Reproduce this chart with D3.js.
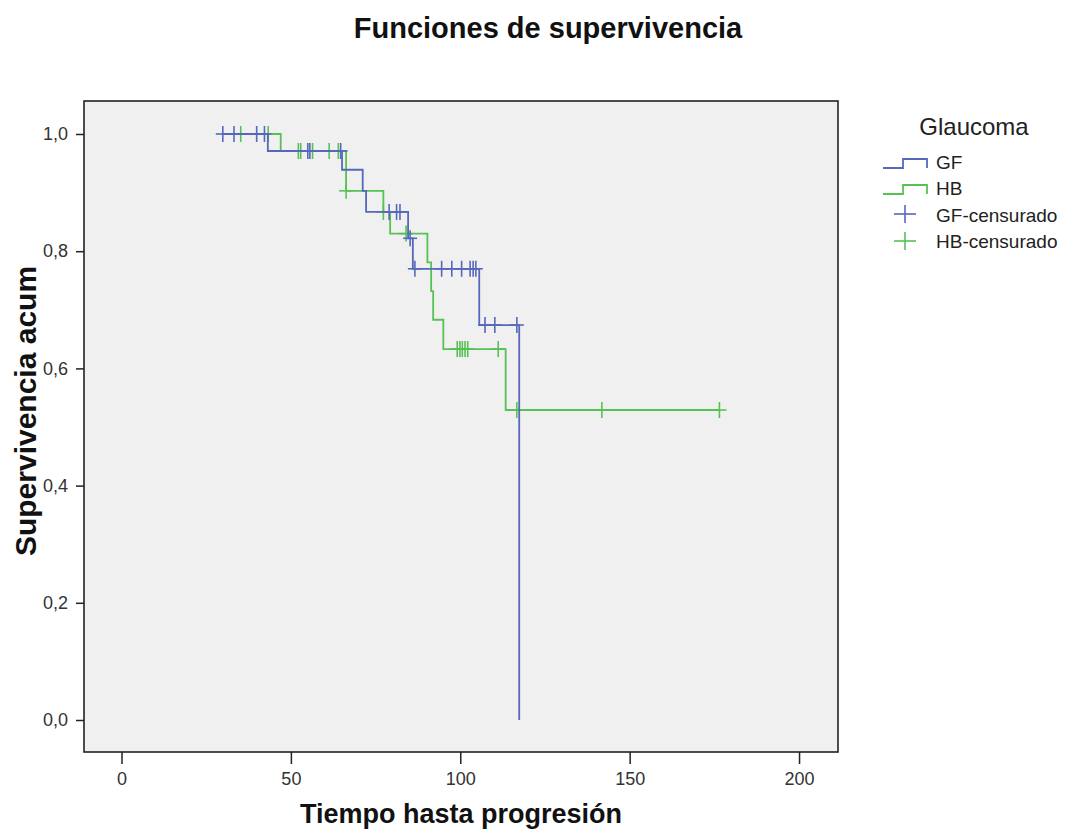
<!DOCTYPE html>
<html><head><meta charset="utf-8">
<script src="https://cdn.jsdelivr.net/npm/d3@7/dist/d3.min.js"></script>
<style>body{margin:0;background:#fff}svg{display:block;font-family:"Liberation Sans",Arial,sans-serif}</style>
</head><body><svg id="c" width="1065" height="830"></svg>
<script>
// ---- data ----
const xTicks = [0, 50, 100, 150, 200];
const yTicks = [0, 0.2, 0.4, 0.6, 0.8, 1.0];
const groups = ["GF", "HB"];
// GF: start time, event times and survival after each event, censored times
const gfStart = 29.9;
const gfEventTimes = [43.2, 65.1, 71.2, 72.2, 84.6, 86.0, 105.6, 117.4];
const gfSurvival   = [0.971, 0.939, 0.903, 0.867, 0.822, 0.770, 0.674, 0.0];
const gfCensored   = [29.9, 33.2, 39.9, 42.2, 55.0, 55.6, 64.7, 79.0, 81.2, 82.2, 85.2, 86.6, 94.5, 97.5, 100.4, 102.9, 103.8, 104.6, 107.3, 110.2, 116.7];
// HB
const hbStart = 35.2;
const hbEventTimes = [47.0, 66.3, 77.3, 79.3, 90.3, 91.4, 92.0, 95.0, 113.4];
const hbSurvival   = [0.971, 0.903, 0.867, 0.830, 0.781, 0.732, 0.683, 0.633, 0.529];
const hbCensored   = [35.2, 43.3, 52.2, 52.9, 56.4, 61.3, 64.0, 66.3, 77.3, 84.0, 99.1, 99.9, 100.6, 101.4, 102.2, 111.2, 116.7, 141.8, 176.5];

const colors = {GF: "#5568bc", HB: "#57c254"};

const svg = d3.select("#c");
const L = 84, R = 838, T = 101, B = 752;
const x = d3.scaleLinear().domain([-11.07, 211.5]).range([L, R]);
const y = d3.scaleLinear().domain([-0.0546, 1.0563]).range([B, T]);

svg.append("rect").attr("x", L).attr("y", T).attr("width", R - L).attr("height", B - T)
  .attr("fill", "#f0f0f0");

// axes
const fmt = d => d3.format(".1f")(d).replace(".", ",");
const gx = svg.append("g").attr("transform", `translate(0,${B})`)
  .call(d3.axisBottom(x).tickValues(xTicks).tickSize(12).tickPadding(8).tickFormat(d3.format("d")));
const gy = svg.append("g").attr("transform", `translate(${L},0)`)
  .call(d3.axisLeft(y).tickValues(yTicks).tickSize(8).tickPadding(8).tickFormat(fmt));
[gx, gy].forEach(g => {
  g.select(".domain").remove();
  g.selectAll(".tick line").attr("stroke", "#222").attr("stroke-width", 1.5);
  g.selectAll(".tick text").attr("fill", "#333").style("font-size", "18px").style("font-family", "Liberation Sans, Arial, sans-serif");
});

function stepPath(start, times, surv) {
  const pts = [[start, 1]];
  let cur = 1;
  times.forEach((t, i) => { pts.push([t, cur]); pts.push([t, surv[i]]); cur = surv[i]; });
  return pts;
}
function survAt(t, times, surv) {
  let s = 1;
  times.forEach((e, i) => { if (t >= e) s = surv[i]; });
  return s;
}
const lastTime = (times, cens) => Math.max(times[times.length - 1], cens[cens.length - 1]);

const series = [
  {name: "HB", start: hbStart, times: hbEventTimes, surv: hbSurvival, cens: hbCensored},
  {name: "GF", start: gfStart, times: gfEventTimes, surv: gfSurvival, cens: gfCensored}
];
const line = d3.line().x(d => x(d[0])).y(d => y(d[1]));
series.forEach(s => {
  const pts = stepPath(s.start, s.times, s.surv);
  const end = lastTime(s.times, s.cens);
  const lastS = s.surv[s.surv.length - 1];
  if (end > s.times[s.times.length - 1] && lastS > 0) pts.push([end, lastS]);
  svg.append("path").attr("d", line(pts)).attr("fill", "none")
    .attr("stroke", colors[s.name]).attr("stroke-width", 1.8);
  const g = svg.append("g").attr("stroke", colors[s.name]).attr("stroke-width", 1.6);
  s.cens.forEach(t => {
    const cx = x(t), cy = y(survAt(t, s.times, s.surv));
    g.append("line").attr("x1", cx - 7).attr("x2", cx + 7).attr("y1", cy).attr("y2", cy);
    g.append("line").attr("x1", cx).attr("x2", cx).attr("y1", cy - 8).attr("y2", cy + 8);
  });
});

// frame
svg.append("rect").attr("x", L).attr("y", T).attr("width", R - L).attr("height", B - T)
  .attr("fill", "none").attr("stroke", "#222").attr("stroke-width", 1.6);

// titles
svg.append("text").attr("x", 548).attr("y", 38).attr("text-anchor", "middle")
  .style("font-size", "29px").style("font-weight", "bold").attr("fill", "#111").text("Funciones de supervivencia");
svg.append("text").attr("x", (L + R) / 2).attr("y", 823).attr("text-anchor", "middle")
  .style("font-size", "27px").style("font-weight", "bold").attr("fill", "#111").text("Tiempo hasta progresión");
svg.append("text").attr("transform", "translate(36,411) rotate(-90)").attr("text-anchor", "middle")
  .style("font-size", "30px").style("font-weight", "bold").attr("fill", "#111").text("Supervivencia acum");

// legend
const lg = svg.append("g");
lg.append("text").attr("x", 974).attr("y", 135).attr("text-anchor", "middle")
  .style("font-size", "24px").attr("fill", "#222").text("Glaucoma");
const legendItems = [
  {label: "GF", type: "step", c: colors.GF, y: 163, ty: 169},
  {label: "HB", type: "step", c: colors.HB, y: 189, ty: 195},
  {label: "GF-censurado", type: "cross", c: colors.GF, y: 214, ty: 222},
  {label: "HB-censurado", type: "cross", c: colors.HB, y: 241, ty: 248}
];
legendItems.forEach(it => {
  if (it.type === "step") {
    lg.append("path").attr("d", `M883,${it.y + 5}H903V${it.y - 4}H927V${it.y + 5}`)
      .attr("fill", "none").attr("stroke", it.c).attr("stroke-width", 1.8);
  } else {
    lg.append("line").attr("x1", 894).attr("x2", 916).attr("y1", it.y).attr("y2", it.y).attr("stroke", it.c).attr("stroke-width", 1.6);
    lg.append("line").attr("x1", 905).attr("x2", 905).attr("y1", it.y - 9).attr("y2", it.y + 9).attr("stroke", it.c).attr("stroke-width", 1.6);
  }
  lg.append("text").attr("x", 936).attr("y", it.ty).style("font-size", "19px").attr("fill", "#222").text(it.label);
});
</script></body></html>
